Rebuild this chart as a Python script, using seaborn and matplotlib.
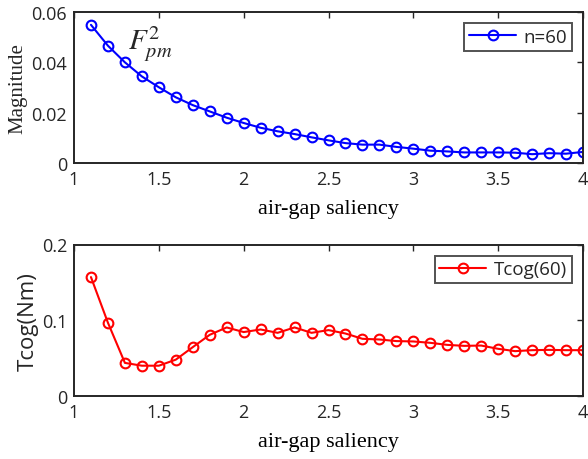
import numpy as np
import pandas as pd
import matplotlib
matplotlib.use("Agg")
import matplotlib.pyplot as plt
import seaborn as sns

saliency = [1.1, 1.2, 1.3, 1.4, 1.5, 1.6, 1.7, 1.8, 1.9, 2.0,
            2.1, 2.2, 2.3, 2.4, 2.5, 2.6, 2.7, 2.8, 2.9, 3.0,
            3.1, 3.2, 3.3, 3.4, 3.5, 3.6, 3.7, 3.8, 3.9, 4.0]
magnitude_n60 = [0.0549, 0.0466, 0.0400, 0.0344, 0.0301, 0.0261, 0.0230, 0.0205, 0.0180, 0.0159,
                 0.0140, 0.0126, 0.0115, 0.0102, 0.0090, 0.0079, 0.0073, 0.0073, 0.0064, 0.0057,
                 0.0049, 0.0046, 0.0042, 0.0042, 0.0042, 0.0041, 0.0035, 0.0039, 0.0037, 0.0044]
tcog_60 = [0.157, 0.0967, 0.0437, 0.0400, 0.0400, 0.0480, 0.0645, 0.0808, 0.0905, 0.0844,
           0.0878, 0.0834, 0.0905, 0.0834, 0.0870, 0.0825, 0.0755, 0.0746, 0.0725, 0.0720,
           0.0702, 0.0675, 0.0662, 0.0666, 0.0623, 0.0592, 0.0605, 0.0609, 0.0605, 0.0605]
xticks = [1, 1.5, 2, 2.5, 3, 3.5, 4]
xticklabels = ["1", "1.5", "2", "2.5", "3", "3.5", "4"]
yticks_top = [0, 0.02, 0.04, 0.06]
yticklabels_top = ["0", "0.02", "0.04", "0.06"]
yticks_bot = [0, 0.1, 0.2]
yticklabels_bot = ["0", "0.1", "0.2"]

sns.set_style("white")
plt.rcParams["font.family"] = ["Open Sans", "DejaVu Sans"]
plt.rcParams["mathtext.fontset"] = "stix"

df1 = pd.DataFrame({"x": saliency, "y": magnitude_n60, "s": "n=60"})
df2 = pd.DataFrame({"x": saliency, "y": tcog_60, "s": "Tcog(60)"})

fig = plt.figure(figsize=(5.88, 4.60), dpi=100)
ax1 = fig.add_axes([74/588, (460-164)/460, (583-74)/588, 151/460])
ax2 = fig.add_axes([74/588, (460-397)/460, (583-74)/588, 151.5/460])

serif = "Liberation Serif"
axcol = "#262626"

def style(ax, yt, ytl):
    ax.set_xlim(1, 4)
    ax.set_xticks(xticks)
    ax.set_xticklabels(xticklabels)
    ax.set_yticks(yt)
    ax.set_yticklabels(ytl)
    ax.set_ylim(yt[0], yt[-1])
    ax.tick_params(direction="in", top=True, right=True, length=4, width=1.0,
                   colors=axcol, labelsize=13, pad=5)
    for sp in ax.spines.values():
        sp.set_visible(True)
        sp.set_color(axcol)
        sp.set_linewidth(1.4)
    ax.set_xlabel("air-gap saliency", fontfamily=serif, fontsize=16, color="black", labelpad=8)
    leg = ax.legend(loc="upper right", frameon=True, fancybox=False, fontsize=13.5,
                    borderaxespad=0.6, handlelength=2.5, borderpad=0.25, handletextpad=0.4)
    leg.get_frame().set_edgecolor(axcol)
    leg.get_frame().set_linewidth(1.4)

sns.lineplot(data=df1, x="x", y="y", hue="s", palette=["#0000ff"], ax=ax1,
             marker="o", markersize=7, markerfacecolor="none", markeredgewidth=1.5,
             markeredgecolor="#0000ff", linewidth=1.5)
style(ax1, yticks_top, yticklabels_top)
ax1.set_ylabel("Magnitude", fontfamily=serif, fontsize=15, labelpad=3)
ax1.text(1.318, 0.0453, r"$F_{pm}^{2}$", fontsize=21)

sns.lineplot(data=df2, x="x", y="y", hue="s", palette=["#ff0000"], ax=ax2,
             marker="o", markersize=7, markerfacecolor="none", markeredgewidth=1.5,
             markeredgecolor="#ff0000", linewidth=1.5)
style(ax2, yticks_bot, yticklabels_bot)
ax2.set_ylabel("Tcog(Nm)", fontsize=16, labelpad=2)

fig.savefig("out.png", dpi=100)
